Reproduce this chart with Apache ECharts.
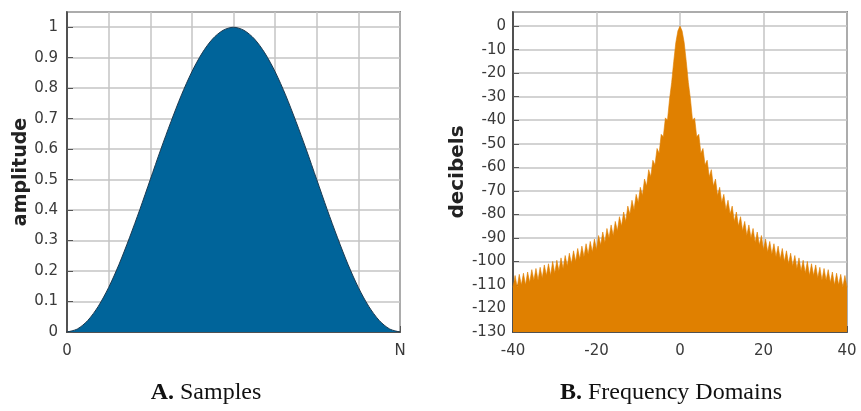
<!DOCTYPE html>
<html>
<head>
<meta charset="utf-8">
<script src="https://cdn.jsdelivr.net/npm/echarts@6/dist/echarts.min.js"></script>
<style>
  html, body { margin: 0; padding: 0; background: #fff; }
  #chart { width: 861px; height: 411px; }
</style>
</head>
<body>
<div id="chart"></div>
<script>
// A. window samples (x in eighths of N)
const windowX = [0, 0.25, 0.5, 0.75, 1, 1.25, 1.5, 1.75, 2, 2.25, 2.5, 2.75, 3, 3.25, 3.5, 3.75,
  4, 4.25, 4.5, 4.75, 5, 5.25, 5.5, 5.75, 6, 6.25, 6.5, 6.75, 7, 7.25, 7.5, 7.75, 8]
const windowAmp = [0, 0.010, 0.038, 0.084, 0.146, 0.222, 0.309, 0.402, 0.500, 0.598, 0.691, 0.778, 0.854, 0.916, 0.962, 0.990,
  1.000, 0.990, 0.962, 0.916, 0.854, 0.778, 0.691, 0.598, 0.500, 0.402, 0.309, 0.222, 0.146, 0.084, 0.038, 0.010, 0]
const sampleTicks = { 0: '0', 8: 'N' }

// B. spectrum in dB, one value every 0.5 from -40 to 40 (lobe tops and dips)
const spectrumDb = [
  -111, -106, -111, -105.5, -110, -105, -110, -104.5, -109, -103.5,
  -108, -103, -108, -102.5, -107, -101.5, -106, -101, -106, -100,
  -105, -99.5, -104, -98.5, -103, -97.5, -102, -96.5, -101, -95.5,
  -100, -94.5, -99, -93.5, -98, -92.5, -97, -91.5, -96, -90.5,
  -95, -89, -93, -87.5, -92, -86, -90, -84.5, -89, -83,
  -87, -81, -85, -79, -83, -76.5, -80, -74, -78, -71.5,
  -75, -68.5, -72, -65, -68, -61, -64, -57, -59, -52,
  -54, -46, -47, -39, -40, -31, -24, -15, -7, -2,
  0,
  -2, -7, -15, -24, -31, -40, -39, -47, -46, -54,
  -52, -59, -57, -64, -61, -68, -65, -72, -68.5, -75,
  -71.5, -78, -74, -80, -76.5, -83, -79, -85, -81, -87,
  -83, -89, -84.5, -90, -86, -92, -87.5, -93, -89, -95,
  -90.5, -96, -91.5, -97, -92.5, -98, -93.5, -99, -94.5, -100,
  -95.5, -101, -96.5, -102, -97.5, -103, -98.5, -104, -99.5, -105,
  -100, -106, -101, -106, -101.5, -107, -102.5, -108, -103, -108,
  -103.5, -109, -104.5, -110, -105, -110, -105.5, -111, -106, -111
]
const freqX = spectrumDb.map((_, i) => -40 + i * 0.5)

const font = 'DejaVu Sans'
const gridLine = { show: true, lineStyle: { color: '#c4c4c4', width: 1.5 } }
const axisLine = { show: true, onZero: false, lineStyle: { color: '#333', width: 1.5 } }
const tick = { show: true, inside: true, length: 6, lineStyle: { color: '#555' } }
const label = { color: '#3a3a3a', fontFamily: font, fontSize: 15 }

const chart = echarts.init(document.getElementById('chart'))
chart.setOption({
  animation: false,
  backgroundColor: '#fff',
  grid: [
    { left: 67, top: 12, width: 333, height: 320, show: true, borderColor: '#333', borderWidth: 1.5 },
    { left: 513, top: 12, width: 334, height: 320, show: true, borderColor: '#333', borderWidth: 1.5 }
  ],
  xAxis: [
    {
      type: 'value', gridIndex: 0, min: 0, max: 8, interval: 1,
      axisLine, axisTick: tick, splitLine: gridLine,
      axisLabel: { ...label, margin: 12, formatter: v => sampleTicks[v] || '' }
    },
    {
      type: 'value', gridIndex: 1, min: -40, max: 40, interval: 20,
      axisLine, axisTick: tick, splitLine: gridLine,
      axisLabel: { ...label, margin: 12 }
    }
  ],
  yAxis: [
    {
      type: 'value', gridIndex: 0, min: 0, max: 1.05, interval: 0.1,
      name: 'amplitude', nameLocation: 'middle', nameGap: 36,
      nameTextStyle: { fontFamily: font, fontWeight: 'bold', fontSize: 19, color: '#222' },
      axisLine, axisTick: tick, splitLine: gridLine,
      axisLabel: { ...label, margin: 9, showMaxLabel: false }
    },
    {
      type: 'value', gridIndex: 1, min: -130, max: 6, interval: 10,
      name: 'decibels', nameLocation: 'middle', nameGap: 45,
      nameTextStyle: { fontFamily: font, fontWeight: 'bold', fontSize: 20, color: '#222' },
      axisLine, axisTick: tick, splitLine: gridLine,
      axisLabel: { ...label, margin: 7, showMaxLabel: false }
    }
  ],
  series: [
    {
      type: 'line', xAxisIndex: 0, yAxisIndex: 0, smooth: 0.3, symbol: 'none',
      data: windowX.map((x, i) => [x, windowAmp[i]]),
      lineStyle: { color: '#1d3a50', width: 1 },
      areaStyle: { color: '#00649a', opacity: 1 }
    },
    {
      type: 'line', xAxisIndex: 1, yAxisIndex: 1, symbol: 'none',
      data: freqX.map((x, i) => [x, spectrumDb[i]]),
      lineStyle: { color: '#e08000', width: 0.6 },
      areaStyle: { color: '#e08000', opacity: 1, origin: 'start' }
    }
  ],
  graphic: [
    {
      type: 'text', x: 206, y: 393,
      style: {
        text: '{b|A.} Samples', align: 'center', verticalAlign: 'middle',
        fontFamily: 'Liberation Serif', fontSize: 24, fill: '#111',
        rich: { b: { fontFamily: 'Liberation Serif', fontSize: 24, fontWeight: 'bold', fill: '#111' } }
      }
    },
    {
      type: 'text', x: 671, y: 393,
      style: {
        text: '{b|B.} Frequency Domains', align: 'center', verticalAlign: 'middle',
        fontFamily: 'Liberation Serif', fontSize: 24, fill: '#111',
        rich: { b: { fontFamily: 'Liberation Serif', fontSize: 24, fontWeight: 'bold', fill: '#111' } }
      }
    }
  ]
})
</script>
</body>
</html>
